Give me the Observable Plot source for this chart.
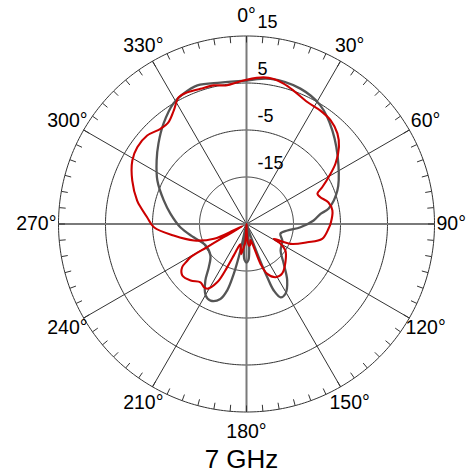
<!DOCTYPE html>
<html>
<head>
<meta charset="utf-8">
<script src="https://cdn.jsdelivr.net/npm/d3@7"></script>
<script src="https://cdn.jsdelivr.net/npm/@observablehq/plot@0.6"></script>
<style>
  body { margin: 0; background: #fff; font-family: "Liberation Sans", Arial, sans-serif; position: relative; width: 466px; height: 475px; overflow: hidden; }
  #chart { position: absolute; left: 0; top: 0; }
  #title { position: absolute; left: 241.5px; top: 445px; transform: translateX(-50%); font-size: 26px; line-height: 29px; color: #000; white-space: nowrap; }
</style>
</head>
<body>
<div id="chart"></div>
<div id="title">7 GHz</div>
<script>
// ---- data (angle in degrees clockwise from top, gain in dB) ----
const grayAngle = [0, 9.4, 21.7, 32, 42.6, 57.5, 69.8, 79.3, 82.2, 87, 93.4, 99.1, 106.1, 114.8, 127.9, 136.9, 144.2, 150.8, 155.1, 157.7, 158.7, 159.7, 161, 165, 171, 174, 177, 180, 183, 186, 189, 192.8, 194.3, 196.2, 199.2, 205.2, 209.8, 216, 221.1, 228.8, 242.3, 255.9, 267.2, 277.6, 285.9, 296, 305.2, 312.5, 320.4, 328.8, 334.2, 340.5, 349.6, 360];
const grayDb = [5.5, 6.3, 6.0, 4.7, 2.0, -1.8, -4.4, -7.2, -9.1, -10.7, -13.5, -16.2, -17.5, -16.6, -15.8, -13.4, -10.2, -8.0, -7.8, -9.7, -12.9, -17.5, -22, -25, -23, -19.5, -17.3, -16.8, -17.3, -19.5, -25, -19.2, -14.1, -10.3, -8.1, -7.0, -7.5, -10.1, -12.8, -14.8, -15.2, -13.4, -10.9, -8.7, -6.7, -3.9, -1.6, 0.4, 2.7, 5.0, 5.8, 6.3, 5.6, 5.5];

const redAngle = [0, 6.6, 10.6, 14.8, 19.4, 26.5, 33.1, 39.1, 45.1, 50.2, 55.8, 60.3, 64.1, 66.9, 70.1, 75.1, 81, 89.7, 93.1, 101.1, 106.7, 114.2, 118.5, 120.2, 124.2, 134.4, 144.4, 151.4, 157.4, 160.6, 162.5, 166, 170, 174, 178, 181, 184, 187, 190, 193, 197, 200, 202, 204.1, 206.7, 211.2, 214, 218.3, 224.7, 231.3, 236.1, 238, 239.3, 239.6, 240, 241.5, 243.5, 245.6, 252.6, 261, 268, 273.9, 279, 282.1, 290.8, 299.1, 305.1, 311.7, 317.9, 322.6, 327.4, 331.9, 335.8, 341.2, 346.7, 352, 356, 360];
const redDb = [5.7, 6.4, 6.4, 5.9, 5.1, 4.0, 3.8, 3.4, 2.3, 0.6, -2.1, -4.9, -7.1, -8.6, -8.3, -7.0, -6.5, -7.1, -7.5, -8.6, -11.5, -14.7, -18.4, -16.6, -15.0, -13.4, -12.0, -12.1, -13.5, -16.0, -19.8, -21.5, -20.5, -20.4, -23, -25, -21, -20, -18.5, -19.5, -20.5, -19.5, -17.8, -14.9, -11.1, -8.9, -8.8, -9.2, -8.1, -7.5, -8.5, -10, -11.1, -15.3, -19.4, -24, -22, -17.4, -13.3, -9.3, -5.3, -3.8, -2.2, -1.2, 1.0, 2.8, 3.4, 3.3, 2.3, 2.3, 3.7, 5.6, 5.7, 5.4, 5.3, 4.8, 5.2, 5.7];

const ringValues = [-15, -5, 5, 15];
const ringLabels = ["-15", "-5", "5", "15"];
const angleTicks = [0, 30, 60, 90, 120, 150, 180, 210, 240, 270, 300, 330];
const angleLabels = ["0°", "30°", "60°", "90°", "120°", "150°", "180°", "210°", "240°", "270°", "300°", "330°"];
const dbMin = -25, dbMax = 15;

// ---- helpers: polar (angle, dB) -> (longitude, latitude) on the projection ----
const span = dbMax - dbMin;                 // 40 units from centre to rim
const lon = a => 180 - a;                   // clockwise, 0° at top
const lat = v => 90 - (Math.max(v, dbMin) - dbMin);
const grayData = grayAngle.map((a, i) => ({angle: a, db: grayDb[i]}));
const redData = redAngle.map((a, i) => ({angle: a, db: redDb[i]}));
const minorTicks = d3.range(0, 360, 5);
const majorSpokes = angleTicks.filter(a => a % 90 === 0);
const minorSpokes = angleTicks.filter(a => a % 90 !== 0);
const pxPerUnit = 188 / span;
const labelSize = 19.5;

// distance (px) from the rim to the centre of an angle label, so that its box sits just outside
function labelOffset(a, i) {
  const t = a * Math.PI / 180, s = Math.abs(Math.sin(t)), c = Math.abs(Math.cos(t));
  const txt = angleLabels[i];
  const halfW = ((txt.length - 1) * 0.556 + 0.4) * labelSize / 2;
  const halfH = 0.36 * labelSize;
  const edge = Math.min(s > 1e-6 ? halfW / s : Infinity, c > 1e-6 ? halfH / c : Infinity);
  return 2 + 11 * c * c + edge;
}

const chart = Plot.plot({
  width: 466,
  height: 475,
  margin: 0,
  projection: {
    type: "azimuthal-equidistant",
    rotate: [0, -90],
    domain: d3.geoCircle().center([0, 90]).radius(span).precision(1)(),
    insetLeft: 58, insetRight: 32, insetTop: 35.5, insetBottom: 63.5
  },
  style: {fontFamily: "'Liberation Sans', Arial, sans-serif", background: "transparent"},
  marks: [
    Plot.geo(ringValues, {
      geometry: v => d3.geoCircle().center([0, 90]).radius(v - dbMin).precision(1)(),
      stroke: "#333", strokeWidth: 1, fill: "none"
    }),
    Plot.link(minorSpokes, {
      x1: a => lon(a), y1: 90, x2: a => lon(a), y2: lat(dbMax),
      stroke: "#333", strokeWidth: 1
    }),
    Plot.link(majorSpokes, {
      x1: a => lon(a), y1: 90, x2: a => lon(a), y2: lat(dbMax),
      stroke: "#7a7a7a", strokeWidth: 2
    }),
    Plot.link(minorTicks, {
      x1: a => lon(a), y1: lat(dbMax), x2: a => lon(a), y2: lat(dbMax) + 6.5 / pxPerUnit,
      stroke: "#333", strokeWidth: 1
    }),
    Plot.line(grayData, {
      x: d => lon(d.angle), y: d => lat(d.db),
      stroke: "#555", strokeWidth: 2.3, curve: "catmull-rom"
    }),
    Plot.line(redData, {
      x: d => lon(d.angle), y: d => lat(d.db),
      stroke: "#cc0000", strokeWidth: 2.1, curve: "catmull-rom"
    }),
    Plot.text(angleTicks, {
      x: a => lon(a), y: (a, i) => lat(dbMax) - labelOffset(a, i) / pxPerUnit,
      text: (a, i) => angleLabels[i],
      fontSize: labelSize, fill: "#000", textAnchor: "middle", lineAnchor: "middle"
    }),
    Plot.text(ringValues, {
      x: () => 180, y: v => lat(v) - 13.5 / pxPerUnit,
      text: (v, i) => ringLabels[i],
      fontSize: 18, fill: "#000", textAnchor: "start", lineAnchor: "middle", dx: 11
    })
  ]
});
document.getElementById("chart").appendChild(chart);
</script>
</body>
</html>
